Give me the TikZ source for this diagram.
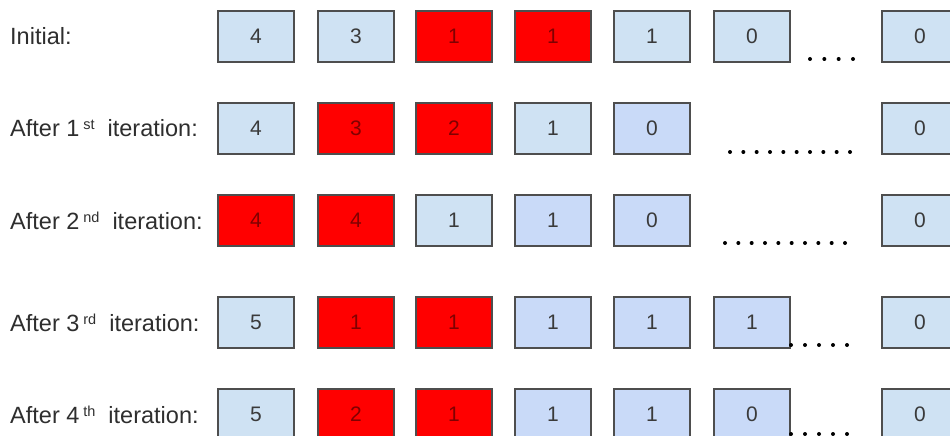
\documentclass[tikz,border=0pt]{standalone}
\usepackage{fontspec}
\setmainfont{Liberation Sans}

\definecolor{cellblue}{HTML}{CFE2F3}
\definecolor{cellcorn}{HTML}{C9DAF8}
\definecolor{cellred}{HTML}{FF0000}
\definecolor{txtcellblue}{HTML}{3A3A3A}
\colorlet{txtcellcorn}{txtcellblue}
\definecolor{txtcellred}{HTML}{800000}
\definecolor{edgegray}{HTML}{4E4E4E}
\definecolor{labelgray}{HTML}{2E2E2E}

\tikzset{
  cell/.style={draw=edgegray, line width=1.2pt, fill=#1, text=txt#1,
    minimum width=76pt, minimum height=51pt, inner sep=0pt,
    font=\fontsize{21}{21}\selectfont},
  rowlabel/.style={anchor=west, inner sep=0pt, text=labelgray,
    font=\fontsize{23.5}{23.5}\selectfont},
}
\newcommand{\ordsup}[1]{{\fontsize{14.5}{14.5}\selectfont\raisebox{0.5em}{#1}}}

\begin{document}
\begin{tikzpicture}[x=1pt, y=-1pt]

    % ---- Parameters ----
    \def\colxs{{256,356,454,553,652,752,920}}   % column centres
    \useasboundingbox (0,0) rectangle (950,436);

    % ---- Row labels ----
    \foreach \r/\y/\txt in {1/36.5/{Initial:},
        2/128.5/{After 1\,\ordsup{st}\ \ iteration:},
        3/220.5/{After 2\,\ordsup{nd}\ \ iteration:},
        4/322.5/{After 3\,\ordsup{rd}\ \ iteration:},
        5/414.5/{After 4\,\ordsup{th}\ \ iteration:}}
      \node[rowlabel] (lab\r) at (10,\y) {\txt};

    % ---- Cells (column / value / fill) ----
    \foreach \r/\y/\cells in {
        1/36.5/{1/4/cellblue, 2/3/cellblue, 3/1/cellred, 4/1/cellred, 5/1/cellblue, 6/0/cellblue, 7/0/cellblue},
        2/128.5/{1/4/cellblue, 2/3/cellred, 3/2/cellred, 4/1/cellblue, 5/0/cellcorn, 7/0/cellblue},
        3/220.5/{1/4/cellred, 2/4/cellred, 3/1/cellblue, 4/1/cellcorn, 5/0/cellcorn, 7/0/cellblue},
        4/322.5/{1/5/cellblue, 2/1/cellred, 3/1/cellred, 4/1/cellcorn, 5/1/cellcorn, 6/1/cellcorn, 7/0/cellblue},
        5/414.5/{1/5/cellblue, 2/2/cellred, 3/1/cellred, 4/1/cellcorn, 5/1/cellcorn, 6/0/cellcorn, 7/0/cellblue}}
      \foreach \c/\v/\s in \cells {
        \pgfmathsetmacro{\cx}{\colxs[\c-1]}
        \node[cell=\s] (r\r c\c) at (\cx,\y) {\v};
      }

    % ---- Ellipsis dots (row / y / first x / last x / count) ----
    \foreach \r/\y/\xa/\xb/\n in {1/59/810/853/4, 2/152/730/850/10,
        3/243/725/845/10, 4/345/791/847/5, 5/434/791/847/5}
      \foreach \k in {1,...,\n}
        \fill[black] ({\xa+(\k-1)*(\xb-\xa)/(\n-1)},\y) circle (2pt);

\end{tikzpicture}
\end{document}
